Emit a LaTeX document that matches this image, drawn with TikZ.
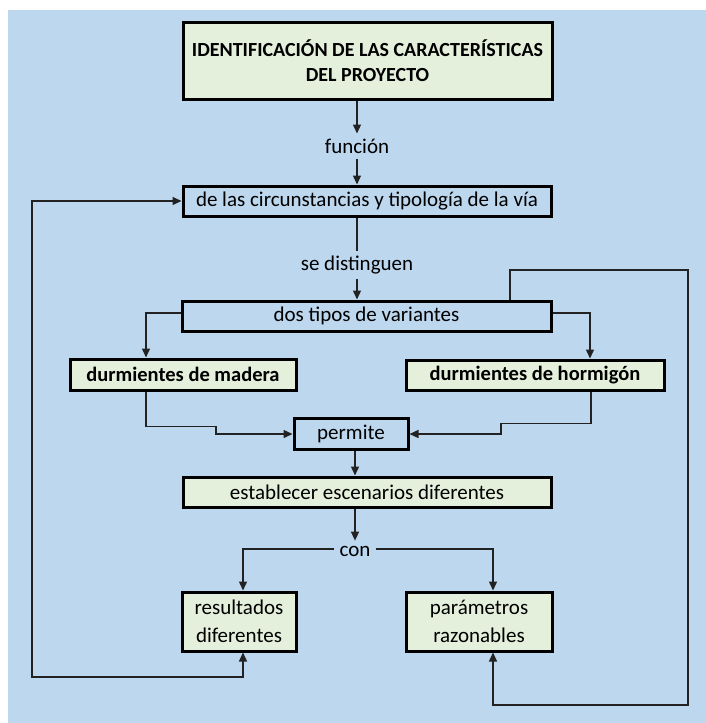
\documentclass[tikz,border=0pt]{standalone}
\usepackage{fontspec}
\setmainfont{Carlito}
\usetikzlibrary{arrows.meta}
\definecolor{bgblue}{HTML}{BDD7EE}
\definecolor{boxgreen}{HTML}{E4EFDC}
\definecolor{wirecol}{HTML}{222222}

\begin{document}
\begin{tikzpicture}[x=1pt,y=-1pt,
  box/.style={draw=black, line width=3pt, inner sep=0pt, align=center,
    font=\fontsize{21}{28}\selectfont},
  greenbox/.style={box, fill=boxgreen},
  boldbox/.style={greenbox, font=\bfseries\fontsize{20.5}{25}\selectfont},
  lbl/.style={inner sep=5pt, font=\fontsize{21}{25}\selectfont},
  wire/.style={draw=wirecol, line width=1.4pt},
  tip/.tip={Triangle[length=9pt,width=8pt]},
  arr/.style={wire, -tip},
  dblarr/.style={wire, tip-tip},
]
\useasboundingbox (0,0) rectangle (706,723);
\fill[bgblue] (8,10) rectangle (706,723);

% vertical axes of the central arrows
\coordinate (ax) at (357,0);
\coordinate (bx) at (355,0);

% boxes
\node[greenbox, minimum width=369pt, minimum height=77pt,
  font=\bfseries\fontsize{20}{25}\selectfont] (ident) at (367.5,60.5)
  {IDENTIFICACIÓN DE LAS CARACTERÍSTICAS\\DEL PROYECTO};
\node[box, minimum width=368pt, minimum height=30pt] (circ) at (367,201)
  {de las circunstancias y tipología de la vía};
\node[box, minimum width=369pt, minimum height=30pt] (tipos) at (366.5,316)
  {dos tipos de variantes};
\node[boldbox, minimum width=226pt, minimum height=31pt] (madera) at (183,374.5)
  {durmientes de madera};
\node[boldbox, minimum width=258pt, minimum height=30pt] (hormigon) at (535,375)
  {durmientes de hormigón};
\node[box, minimum width=114pt, minimum height=31pt] (permite) at (351,434)
  {permite};
\node[greenbox, minimum width=368pt, minimum height=30pt] (establecer) at (367,492)
  {establecer escenarios diferentes};
\node[greenbox, minimum width=114pt, minimum height=59pt] (resultados) at (239,621.5)
  {resultados\\diferentes};
\node[greenbox, minimum width=146pt, minimum height=59pt] (parametros) at (479,621.5)
  {parámetros\\razonables};

% connector labels
\node[lbl] (funcion) at (357,146) {función};
\node[lbl] (sedist) at (357,265) {se distinguen};
\node[lbl] (con) at (355,551) {con};

% corner points of the two feedback loops
\coordinate (lc) at (32,677);
\coordinate (rt) at (688,270);
\coordinate (rb) at (688,705);

% main chain
\draw[arr] (ident.south -| ax) -- (funcion.north);
\draw[arr] (funcion.south) -- (circ.north -| ax);
\draw[wire] (circ.south -| ax) -- (sedist.north);
\draw[arr] (sedist.south) -- (tipos.north -| ax);

% the two variants
\draw[arr] ([yshift=3pt]tipos.west) -| ([xshift=-37pt]madera.north);
\draw[arr] ([yshift=3pt]tipos.east) -| ([xshift=55pt]hormigon.north);
\draw[arr] ([xshift=-37pt]madera.south) -- ++(0,35) -- ++(70,0) |- (permite.west);
\draw[arr] ([xshift=56pt]hormigon.south) -- ++(0,32) -- ++(-90,0) |- (permite.east);

% scenarios
\draw[arr] (permite.south -| bx) -- (establecer.north -| bx);
\draw[arr] (establecer.south -| bx) -- (con.north);
\draw[arr] ([yshift=2pt]con.west) -| ([xshift=4pt]resultados.north);
\draw[arr] ([yshift=2pt]con.east) -| ([xshift=14pt]parametros.north);

% feedback loops
\draw[dblarr] ([xshift=4pt]resultados.south) |- (lc) |- (circ.west);
\draw[arr] ([xshift=143.5pt]tipos.north) |- (rt) -- (rb) -| ([xshift=14pt]parametros.south);
\end{tikzpicture}
\end{document}
